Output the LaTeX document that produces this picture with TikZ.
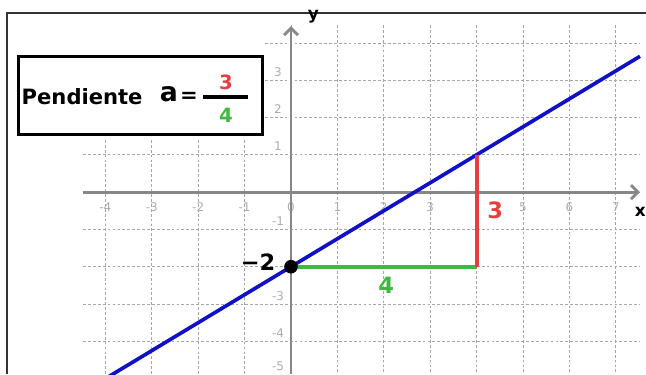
\documentclass[tikz,border=0pt]{standalone}
\usepackage{fontspec}
\setmainfont{DejaVu Sans}
\usetikzlibrary{arrows.meta}
\definecolor{lineblue}{RGB}{16,16,200}
\definecolor{slopered}{RGB}{232,62,62}
\definecolor{slopegreen}{RGB}{62,186,62}
\definecolor{axisgray}{RGB}{135,135,135}

\begin{document}
\begin{tikzpicture}[x=1.16cm, y=0.9325cm,
    gridline/.style={gray!70, dash pattern=on 2pt off 1.5pt, line width=0.5pt},
    axisline/.style={axisgray, line width=2pt, -{Straight Barb[length=5pt,width=10pt]}},
    ticklabel/.style={gray!65, font=\fontsize{8.5}{9}\selectfont},
    bignum/.style={font=\fontsize{16}{18}\selectfont\bfseries}]
    \useasboundingbox (-6.27,-4.88) rectangle (7.65,5.15);

    % frame
    \draw[line width=1.2pt, black!80] (-6.12,-4.88) -- (-6.12,4.80) -- (7.65,4.80);

    % grid
    \foreach \i in {-4,...,-1} \draw[gridline] (\i,1.4) -- (\i,-4.88);
    \foreach \i in {0,...,7} \draw[gridline] (\i,4.48) -- (\i,-4.88);
    \foreach \j in {-4,...,1} \draw[gridline] (-4.48,\j) -- (7.52,\j);
    \foreach \j in {2,3,4} \draw[gridline] (-0.56,\j) -- (7.52,\j);

    % tick labels
    \foreach \i in {-4,-3,-2,-1,0,1,2,3,5,6,7}
      \node[ticklabel] (xt\i) at (\i,-0.40) {\i};
    \foreach \j in {-4,-3,-1,1,2,3}
      \node[ticklabel] (yt\j) at (-0.28,\j+0.22) {\j};
    \node[ticklabel] (yt-5) at (-0.28,-4.68) {-5};

    % axes
    \coordinate (xleft) at (-4.48,0);
    \coordinate (xright) at (7.52,0);
    \coordinate (ybottom) at (0,-4.88);
    \coordinate (ytop) at (0,4.45);
    \draw[axisline] (xleft) -- (xright);
    \draw[axisline] (ybottom) -- (ytop);
    \node[font=\large\bfseries] (ylabel) at (0.48,4.69) {y};
    \node[font=\large\bfseries] (xlabel) at (7.53,-0.52) {x};

    % line y = 3/4 x - 2
    \coordinate (lstart) at (-4,-5);
    \coordinate (lend) at (7.52,3.64);
    \draw[lineblue, line width=2.6pt] (lstart) -- (lend);

    % slope triangle
    \coordinate (p0) at (0,-2);
    \coordinate (p1) at (4,-2);
    \coordinate (p2) at (4,1);
    \draw[slopegreen, line width=3pt] (p0) -- (p1);
    \draw[slopered, line width=3pt] (p1) -- (p2);
    \fill (p0) circle (0.17cm);
    \node[bignum] (yint) at (-0.71,-1.88) {−2};
    \node[bignum, slopered] (rise) at (4.40,-0.48) {3};
    \node[bignum, slopegreen] (run) at (2.05,-2.49) {4};

    % slope box
    \node[draw, line width=2pt, fill=white, minimum width=6.1cm, minimum height=1.95cm] (slopebox) at (-3.24,2.59) {};
    \node[font=\fontsize{15}{17}\selectfont\bfseries] (pend) at (-4.50,2.55) {Pendiente};
    \node[font=\fontsize{19}{21}\selectfont\bfseries] (aval) at (-2.63,2.62) {a};
    \node[font=\fontsize{15}{17}\selectfont\bfseries] (eq) at (-2.20,2.55) {=};
    \coordinate (barl) at (-1.90,2.55);
    \coordinate (barr) at (-0.93,2.55);
    \draw[line width=2.6pt] (barl) -- (barr);
    \node[font=\fontsize{14}{16}\selectfont\bfseries, slopered] (num) at (-1.40,2.94) {3};
    \node[font=\fontsize{14}{16}\selectfont\bfseries, slopegreen] (den) at (-1.40,2.06) {4};
\end{tikzpicture}
\end{document}
